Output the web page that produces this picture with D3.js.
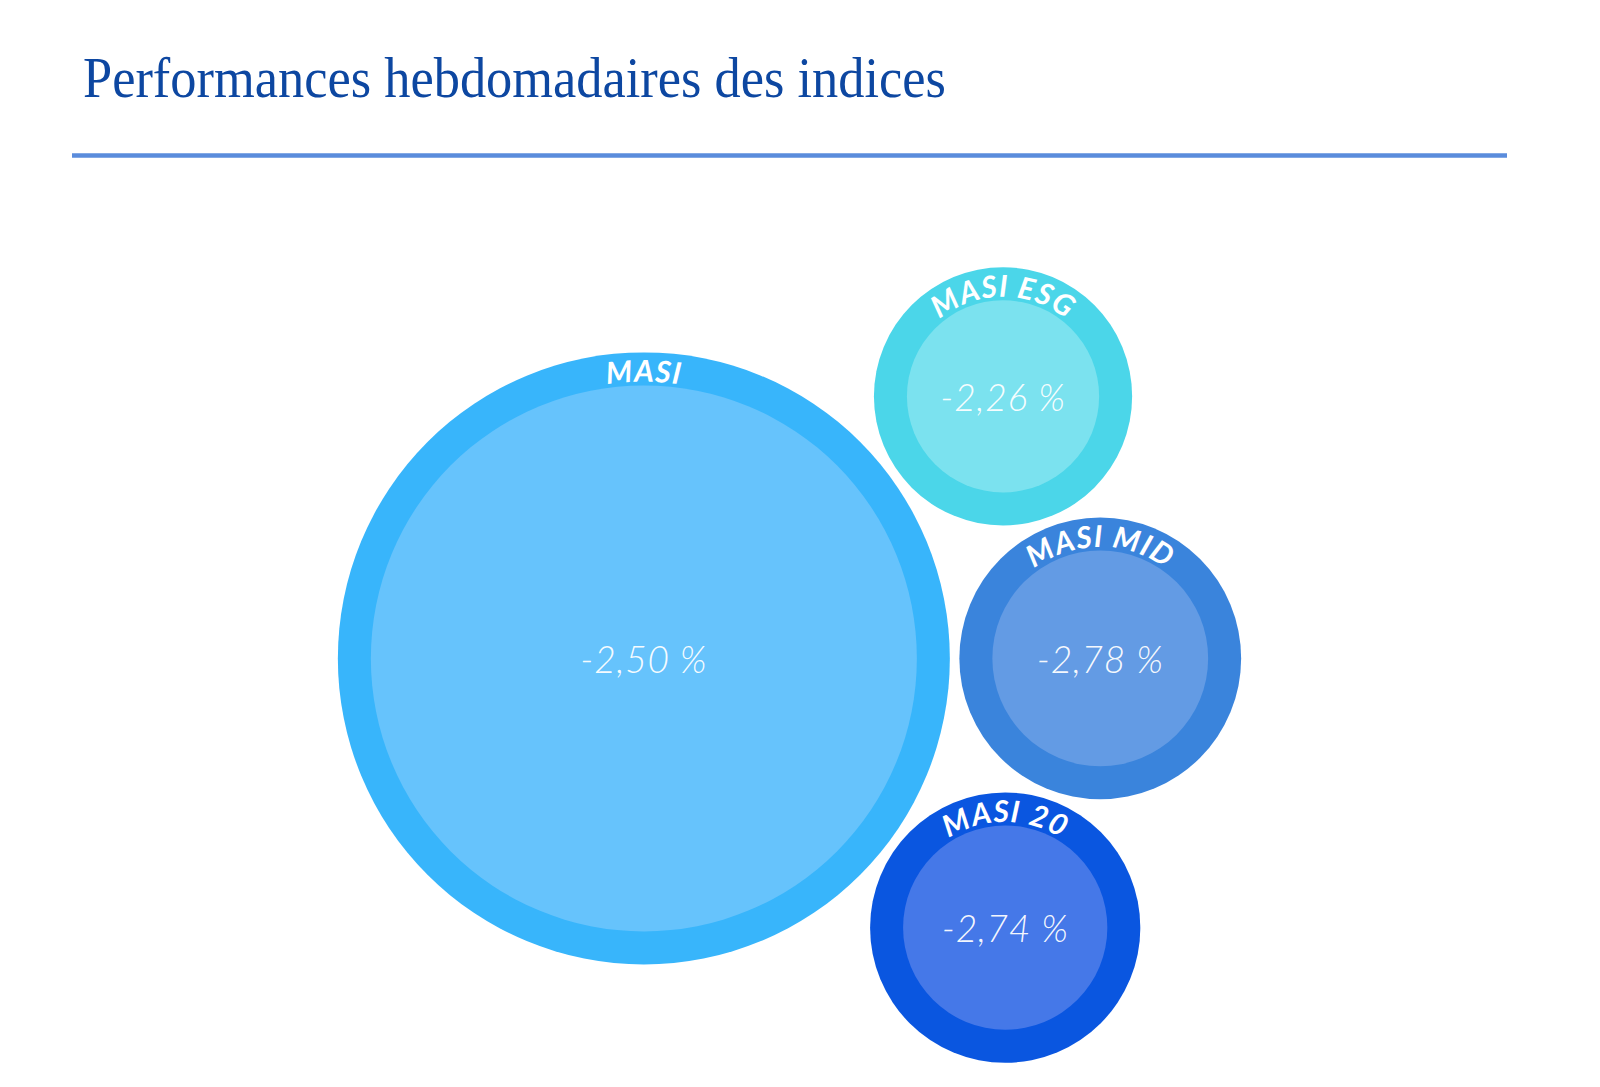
<!DOCTYPE html>
<html lang="fr">
<head>
<meta charset="utf-8">
<script src="https://cdn.jsdelivr.net/npm/d3@7"></script>
<style>
  html, body { margin: 0; padding: 0; background: #ffffff; }
  svg { display: block; }
</style>
</head>
<body>
<svg id="chart" width="1600" height="1087"></svg>
<script>
// ---- Data ----
const title = "Performances hebdomadaires des indices";
const indices = ["MASI", "MASI MID", "MASI 20", "MASI ESG"];
const perfs = [-2.50, -2.78, -2.74, -2.26];
// relative bubble areas
const weights = [100, 21.2, 19.5, 17.8];
const ringColors = ["#38b5fb", "#3a84dc", "#0a56e0", "#4bd6e9"];
const innerColors = ["#66c3fc", "#639be4", "#4578e8", "#7be2ef"];

// ---- Layout ----
const W = 1600, H = 1087;
const contentLeft = 72, contentRight = 1507;
const centerY = 665;
const maxRadius = 306;
const ringWidth = 33;
const gap = 9.5;

const svg = d3.select("#chart");

// Title
svg.append("text")
  .attr("x", 83)
  .attr("y", 97)
  .attr("font-family", "'Liberation Serif', 'Times New Roman', serif")
  .attr("font-size", 56)
  .attr("fill", "#0d47a1")
  .attr("textLength", 863)
  .attr("lengthAdjust", "spacingAndGlyphs")
  .text(title);

// Rule under title
svg.append("line")
  .attr("x1", contentLeft).attr("x2", contentRight)
  .attr("y1", 155.5).attr("y2", 155.5)
  .attr("stroke", "#5a8cdc")
  .attr("stroke-width", 4.5);

// Bubbles
const rScale = d3.scaleSqrt().domain([0, d3.max(weights)]).range([0, maxRadius]);

const nodes = indices.map((name, i) => ({
  name, perf: perfs[i], weight: weights[i],
  ring: ringColors[i], inner: innerColors[i],
  rr: rScale(weights[i])
}));
// sort by size (largest first), pack with padding
nodes.sort((a, b) => b.weight - a.weight);
nodes.forEach(d => d.r = d.rr + gap / 2);
d3.packSiblings(nodes);
nodes.forEach(d => d.r = d.rr);

// centre the bubble group in the content area
const x0 = d3.min(nodes, d => d.x - d.r), x1 = d3.max(nodes, d => d.x + d.r);
const y0 = d3.min(nodes, d => d.y - d.r), y1 = d3.max(nodes, d => d.y + d.r);
const tx = (contentLeft + contentRight) / 2 - (x0 + x1) / 2;
const ty = centerY - (y0 + y1) / 2;

const locale = d3.formatLocale({decimal: ",", thousands: " ", grouping: [3], currency: ["", " €"], minus: "-"});
const fmt = locale.format(".2f");

const g = svg.append("g").attr("transform", `translate(${tx},${ty})`);
const defs = svg.append("defs");

const bubble = g.selectAll("g.bubble").data(nodes).join("g")
  .attr("class", "bubble")
  .attr("transform", d => `translate(${d.x},${d.y})`);

bubble.append("circle").attr("r", d => d.r).attr("fill", d => d.ring);
bubble.append("circle").attr("r", d => d.r - ringWidth).attr("fill", d => d.inner);

// arc paths for curved labels
nodes.forEach((d, i) => {
  const rb = d.r - 29.5;
  defs.append("path")
    .attr("id", "arc" + i)
    .attr("d", `M ${d.x + tx - rb},${d.y + ty} A ${rb},${rb} 0 0 1 ${d.x + tx + rb},${d.y + ty}`);
  d.arcId = "arc" + i;
});

svg.append("g").selectAll("text.lbl").data(nodes).join("text")
  .attr("class", "lbl")
  .attr("font-family", "Lato, 'Open Sans', sans-serif")
  .attr("font-style", "italic")
  .attr("font-weight", 700)
  .attr("font-size", 30)
  .attr("letter-spacing", 1.2)
  .attr("fill", "#ffffff")
  .append("textPath")
  .attr("href", d => "#" + d.arcId)
  .attr("startOffset", "50%")
  .attr("text-anchor", "middle")
  .text(d => d.name);

bubble.append("text")
  .attr("text-anchor", "middle")
  .attr("dominant-baseline", "central")
  .attr("font-family", "Lato, 'Open Sans', sans-serif")
  .attr("font-style", "italic")
  .attr("font-weight", 300)
  .attr("font-size", 37)
  .attr("letter-spacing", 0.8)
  .attr("fill", "#ffffff")
  .attr("fill-opacity", 0.95)
  .text(d => fmt(d.perf) + " %");
</script>
</body>
</html>
